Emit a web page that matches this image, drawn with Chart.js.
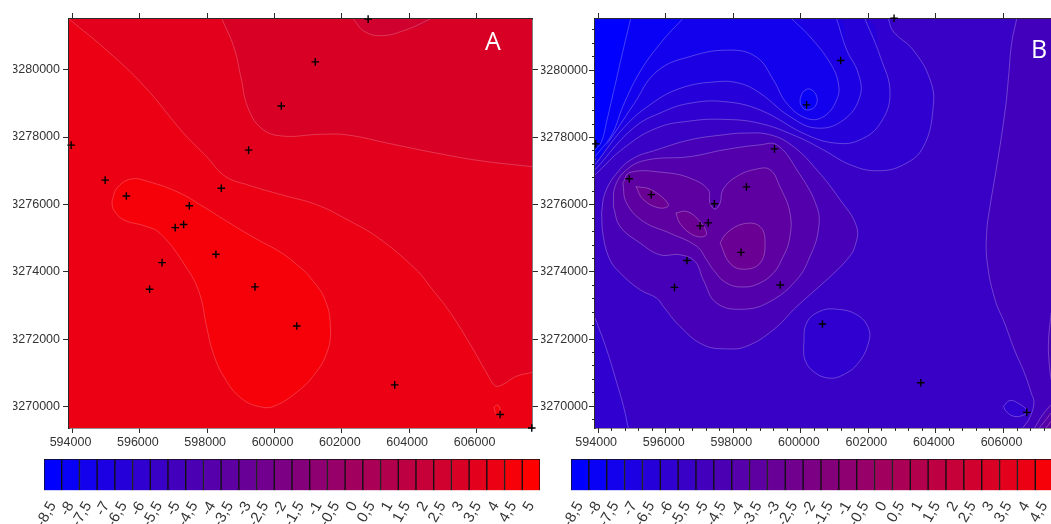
<!DOCTYPE html>
<html lang="en">
<head>
  <meta charset="UTF-8">
  <title>Contour maps A and B</title>
  <script src="https://cdn.jsdelivr.net/npm/chart.js"></script>
  <style>
    html, body { margin: 0; background: #fff; overflow: hidden; width: 1051px; height: 524px; }
    canvas { position: absolute; }
    #mapA { left: 13px; top: 0; }
    #mapB { left: 541px; top: 0; }
    #barA { left: 0; top: 455px; }
    #barB { left: 528px; top: 455px; }
  </style>
</head>
<body>
  <canvas id="mapA" width="527" height="450"></canvas>
  <canvas id="mapB" width="510" height="450"></canvas>
  <canvas id="barA" width="545" height="69"></canvas>
  <canvas id="barB" width="545" height="69"></canvas>

  <script>
    // axis ticks
    const xTicks = [594000,596000,598000,600000,602000,604000,606000];
    const yTicks = [3270000,3272000,3274000,3276000,3278000,3280000];
    const xMinorTicks = [594000,594400,594800,595200,595600,596000,596400,596800,597200,597600,598000,598400,598800,599200,599600,600000,600400,600800,601200,601600,602000,602400,602800,603200,603600,604000,604400,604800,605200,605600,606000,606400,606800,607200];
    const yMinorTicks = [3269600,3270000,3270400,3270800,3271200,3271600,3272000,3272400,3272800,3273200,3273600,3274000,3274400,3274800,3275200,3275600,3276000,3276400,3276800,3277200,3277600,3278000,3278400,3278800,3279200,3279600,3280000,3280400,3280800,3281200];

    // colour scale
    const scaleLabels = ["-8,5","-8","-7,5","-7","-6,5","-6","-5,5","-5","-4,5","-4","-3,5","-3","-2,5","-2","-1,5","-1","-0,5","0","0,5","1","1,5","2","2,5","3","3,5","4","4,5","5"];
    const scaleCells = [1,1,1,1,1,1,1,1,1,1,1,1,1,1,1,1,1,1,1,1,1,1,1,1,1,1,1,1];

    // sample stations (map x, map y)
    const stationsA = [[602780,3281500],[601210,3280230],[600200,3278920],[599230,3277610],[593960,3277760],[594970,3276720],[595600,3276250],[598420,3276480],[597470,3275960],[597300,3275400],[597050,3275310],[598260,3274520],[596660,3274270],[596290,3273480],[599420,3273550],[600660,3272390],[603570,3270640],[606700,3269760],[607640,3269360]];
    const stationsB = [[602760,3281550],[601180,3280290],[600170,3278970],[599220,3277660],[593930,3277810],[594920,3276770],[595570,3276300],[598390,3276530],[597440,3276030],[597260,3275460],[597020,3275370],[598230,3274580],[596630,3274340],[596260,3273540],[599390,3273610],[600640,3272450],[603550,3270700],[606690,3269820]];

    // map A contours
    const a1 = [[593900,3281500],[595010,3280580],[596140,3279500],[597260,3278160],[597980,3277420],[598540,3276830],[599200,3276580],[600220,3276280],[601250,3275990],[602170,3275540],[603090,3275000],[604210,3274060],[604620,3273560],[605230,3272770],[605850,3271780],[606360,3270890],[606560,3270610],[606760,3270640],[607170,3270890],[607650,3271010]];
    const a2 = [[598440,3281500],[598790,3280680],[599000,3279790],[599200,3278900],[599610,3278260],[600220,3278030],[601350,3278080],[602170,3278060],[603390,3277810],[604820,3277520],[606150,3277290],[607650,3277120]];
    const a3 = [[602340,3281500],[602680,3281130],[603190,3281010],[603900,3281180],[604620,3281500]];
    const a4 = [[595170,3276080],[595320,3276480],[595730,3276750],[596240,3276680],[597160,3276350],[597870,3275940],[598590,3275490],[599410,3275000],[600220,3274550],[600840,3274060],[601040,3273860],[601500,3273170],[601660,3272320],[601550,3271580],[601140,3270890],[600630,3270400],[600020,3270020],[599610,3269980],[599000,3270250],[598490,3270890],[598180,3271580],[597980,3272380],[597770,3273360],[597360,3274160],[596600,3275140],[596140,3275360],[595520,3275540],[595220,3275840]];
    const a5 = [[606520,3269980],[606610,3270040],[606680,3269980],[606700,3269800],[606660,3269720],[606560,3269820]];

    // map B contours, open ones
    const b1 = [[594960,3281530],[594750,3280650],[594500,3279560],[594250,3278470],[594100,3277880],[593910,3277630]];
    const b2 = [[596500,3281530],[595880,3280850],[595240,3279960],[594750,3278970],[594400,3278080],[593910,3277430]];
    const b3 = [[593910,3277330],[594450,3278080],[595040,3278970],[595730,3279960],[596720,3280410],[597900,3280600],[598690,3280390],[599190,3279710],[599580,3279020],[600170,3278570],[600670,3278620],[601060,3279120],[601110,3279610],[600870,3280210],[600270,3281000],[599730,3281530]];
    const b4 = [[593910,3277190],[594750,3278280],[595530,3278970],[596420,3279460],[597510,3279660],[598200,3279610],[598790,3279320],[599680,3278620],[600470,3278280],[601260,3278520],[601750,3279220],[601700,3279910],[601360,3280600],[601060,3281530]];
    const b5 = [[593910,3277040],[595040,3278280],[595930,3278770],[596720,3279020],[597710,3279070],[598790,3278820],[600170,3278080],[601060,3277830],[601750,3277930],[602350,3278420],[602640,3279320],[602350,3280410],[601900,3281530]];
    const b6 = [[593910,3276890],[594750,3277680],[595730,3278280],[596720,3278490],[597710,3278540],[598790,3278420],[599880,3278030],[600670,3277630],[601460,3277190],[602250,3277010],[603040,3277190],[603630,3277730],[603920,3278920],[603830,3279710],[603330,3280600],[602740,3281150],[602590,3281530]];
    const bSouthWest = [[593910,3272630],[594250,3271690],[594550,3270700],[594750,3270000],[594890,3269360]];
    const bEast1 = [[606390,3281530],[606240,3280800],[606150,3279810],[606050,3278820],[605800,3277140],[605600,3275950],[605500,3275150],[605520,3274260],[605750,3273170],[606030,3272480],[606320,3271690],[606620,3270990],[606820,3270400],[606900,3270100],[606770,3269650],[606570,3269360]];
    const bEast2 = [[607410,3272780],[607330,3271880],[607360,3271190],[607410,3270790]];
    const bCorner1 = [[606920,3269360],[607160,3269750],[607410,3270050]];
    const bCorner2 = [[607060,3269360],[607410,3269800]];
    const bCorner3 = [[607260,3269360],[607410,3269560]];

    // map B contours, closed ones
    const b7 = [[594100,3275750],[594200,3276340],[594550,3276940],[595040,3277380],[595730,3277630],[596720,3277930],[597710,3278080],[598300,3278130],[599090,3278080],[599780,3277730],[600470,3277040],[601160,3276150],[601650,3275350],[601600,3274760],[601360,3274360],[600770,3273770],[599880,3272970],[599190,3272280],[598400,3271790],[597800,3271710],[597110,3271830],[596420,3272380],[595930,3272970],[595730,3273220],[595240,3273470],[594650,3273970],[594350,3274360],[594150,3275060]];
    const b8 = [[594450,3275950],[594500,3276540],[594840,3277040],[595440,3277330],[596720,3277430],[597710,3277630],[598790,3277780],[599290,3277780],[599880,3277040],[600470,3275950],[600520,3275250],[600270,3274460],[599880,3273770],[599090,3273120],[598300,3272890],[597510,3273070],[597110,3273770],[596870,3274310],[596420,3274510],[595830,3274510],[595240,3274860],[594650,3275350]];
    const b9 = [[594730,3276640],[594940,3276960],[595930,3276960],[596720,3276790],[597260,3276440],[597310,3276050],[597460,3275870],[597610,3276050],[597690,3276440],[598100,3276840],[598690,3277060],[599090,3277040],[599380,3276540],[599680,3275750],[599660,3274960],[599430,3274360],[599190,3273970],[598790,3273670],[598300,3273550],[597800,3273670],[597410,3274060],[597210,3274360],[596920,3274760],[596130,3275150],[595340,3275500],[594840,3276050]];
    const b10a = [[595120,3276540],[595580,3276440],[596080,3276000],[595830,3275900],[595340,3276150]];
    const b10b = [[596300,3275750],[596620,3275800],[596970,3275550],[597210,3275150],[597060,3275040],[596720,3275150],[596420,3275450]];
    const b10c = [[597610,3274860],[597800,3275150],[598300,3275430],[598790,3275350],[598940,3274860],[598790,3274260],[598300,3274080],[597900,3274260]];
    const bLowNorth = [[599980,3279170],[600080,3279370],[600270,3279440],[600470,3279220],[600420,3278920],[600170,3278820],[600000,3278970]];
    const bLowMid = [[600080,3271790],[600170,3272480],[600570,3272830],[601060,3272890],[601650,3272730],[602000,3272330],[602000,3271880],[601700,3271290],[601260,3270940],[600820,3270840],[600370,3271040],[600120,3271390]];
    const bLowSouth = [[606000,3270000],[606180,3270170],[606420,3270100],[606720,3269850],[606620,3269750],[606320,3269700],[606080,3269850]];

    const axisColor = "#2b2b2b";
    const textColor = "#333";
    const tickFont = { family: "'Liberation Sans', Arial, sans-serif", size: 12.5 };

    // off-map points that close the open contours
    const farNW = [[592500,3283000]];
    const farNE = [[609000,3283000]];
    const farSE = [[609000,3268000]];
    const farSW = [[592500,3268000]];

    // same ramp as the colour scale cells
    function bandColor(k) {
      const r = Math.round(k * 255 / 27);
      return `rgb(${r},0,${255 - r})`;
    }

    function band(points, k, closure, lineColor) {
      // fill first, contour line separately so the closing edge is not stroked
      const closed = !closure;
      const linePoints = closed ? [...points, points[0]] : points;
      return [
        { data: closed ? linePoints : [...points, ...closure], showLine: true, pointRadius: 0, borderWidth: 0,
          tension: 0.42, backgroundColor: bandColor(k), fill: "shape" },
        { data: linePoints, showLine: true, pointRadius: 0, borderWidth: 0.8, borderColor: lineColor,
          tension: 0.42, fill: false },
      ];
    }

    function stationSet(points) {
      return { data: points, pointStyle: "cross", pointRadius: 3.8, pointBorderWidth: 1.4,
        pointBorderColor: "#000", showLine: false, clip: false };
    }

    function fixedAxis(position, min, max, size, values, opts = {}) {
      const horizontal = position === "top" || position === "bottom";
      return {
        type: "linear", position, min, max, offset: false,
        weight: opts.weight || 1,
        afterBuildTicks(s) { s.ticks = values.map((value) => ({ value })); },
        afterFit(s) {
          if (horizontal) s.height = size; else s.width = size;
          s.paddingLeft = s.paddingRight = s.paddingTop = s.paddingBottom = 0;
        },
        border: { display: !opts.noLine, color: axisColor, width: 1.6 },
        grid: { drawOnChartArea: false, drawTicks: true, tickLength: opts.tick || 6, tickColor: axisColor, tickWidth: 1 },
        ticks: {
          autoSkip: false, maxRotation: 0,
          display: !!opts.labels, color: textColor, font: tickFont, padding: opts.pad === undefined ? 3 : opts.pad,
          labelOffset: horizontal ? -2 : 0,
          callback: (v) => String(v),
        },
      };
    }

    const plotBackground = {
      id: "plotBackground",
      beforeDatasetsDraw(chart, args, o) {
        const { left, top, width, height } = chart.chartArea;
        chart.ctx.fillStyle = o.color;
        chart.ctx.fillRect(left, top, width, height);
      },
    };

    const panelLetter = {
      id: "panelLetter",
      afterDraw(chart, args, o) {
        const c = chart.ctx;
        c.save();
        c.fillStyle = "#fff";
        c.font = "25px 'Open Sans', sans-serif";
        c.textAlign = "center";
        c.textBaseline = "middle";
        c.fillText(o.text, chart.chartArea.right - o.right, chart.chartArea.top + o.down);
        c.restore();
      },
    };

    function mapChart(id, datasets, scales, base, letter) {
      return new Chart(document.getElementById(id), {
        type: "scatter",
        data: { datasets },
        plugins: [plotBackground, panelLetter],
        options: {
          responsive: false, animation: false, devicePixelRatio: 1, events: [],
          layout: { padding: 0, autoPadding: false },
          plugins: { legend: { display: false }, tooltip: { enabled: false },
            plotBackground: { color: bandColor(base) }, panelLetter: letter },
          scales,
        },
      });
    }

    function colorBar(id, left, right) {
      return new Chart(document.getElementById(id), {
        type: "bar",
        data: {
          labels: scaleLabels,
          datasets: [{ data: scaleCells, backgroundColor: scaleCells.map((c, i) => bandColor(i)),
            borderColor: "#111", borderWidth: 1, barPercentage: 1, categoryPercentage: 1 }],
        },
        options: {
          responsive: false, animation: false, devicePixelRatio: 1, events: [],
          layout: { padding: { left, right, top: 4 }, autoPadding: false },
          plugins: { legend: { display: false }, tooltip: { enabled: false } },
          scales: {
            y: { display: false, min: 0, max: 1 },
            x: {
              afterFit(s) { s.height = 33.5; s.paddingLeft = s.paddingRight = 0; },
              border: { display: false },
              grid: { display: false },
              ticks: { autoSkip: false, minRotation: 60, maxRotation: 60, padding: 0, color: textColor,
                font: { family: "'Liberation Sans', Arial, sans-serif", size: 15 } },
            },
          },
        },
      });
    }

    const lineA = "rgba(255,255,255,0.27)";
    const lineB = "rgba(255,255,255,0.32)";

    // paint order bottom to top, chart.js draws the first dataset last so reverse it
    const layersA = [
      ...band(a1, 24, [[608500,3271010], ...farNE, ...farNW], lineA),
      ...band(a2, 23, [[608500,3277120], ...farNE, [598440,3283000]], lineA),
      ...band(a3, 22, [[604620,3283000],[602340,3283000]], lineA),
      ...band(a4, 26, null, lineA),
      ...band(a5, 26, null, lineA),
      stationSet(stationsA),
    ].reverse();

    const layersB = [
      ...band(b6, 5, farNW, lineB),
      ...band(b5, 4, farNW, lineB),
      ...band(b4, 3, farNW, lineB),
      ...band(b3, 2, farNW, lineB),
      ...band(b2, 1, farNW, lineB),
      ...band(b1, 0, farNW, lineB),
      ...band(bLowNorth, 1, null, lineB),
      ...band(bSouthWest, 5, farSW, lineB),
      ...band(bLowMid, 5, null, lineB),
      ...band(bLowSouth, 5, null, lineB),
      ...band(b7, 7.5, null, lineB),
      ...band(b8, 8.8, null, lineB),
      ...band(b9, 10, null, lineB),
      ...band(b10a, 11.3, null, lineB),
      ...band(b10b, 11.3, null, lineB),
      ...band(b10c, 11.3, null, lineB),
      ...band(bEast1, 7, [[606570,3268000], ...farSE, ...farNE, [606390,3283000]], lineB),
      ...band(bEast2, 8, [...farSE, ...farNE], lineB),
      ...band(bCorner1, 8, [[609000,3270050], ...farSE], lineB),
      ...band(bCorner2, 9, [[609000,3269800], ...farSE], lineB),
      ...band(bCorner3, 10, [[609000,3269560], ...farSE], lineB),
      stationSet(stationsB),
    ].reverse();

    const xA = [593896, 607647], yA = [3269359, 3281504];
    const xB = [593906, 607406], yB = [3269355, 3281526];

    mapChart("mapA", layersA, {
      x: fixedAxis("bottom", xA[0], xA[1], 22, xTicks, { labels: true, tick: 5, pad: 2 }),
      y: fixedAxis("left", yA[0], yA[1], 56, yTicks, { labels: true }),
      xTop: fixedAxis("top", xA[0], xA[1], 19, xTicks),
      yRight: fixedAxis("right", yA[0], yA[1], 8, yTicks),
    }, 25, { text: "A", right: 39, down: 24 });

    mapChart("mapB", layersB, {
      x: fixedAxis("bottom", xB[0], xB[1], 22, xTicks, { labels: true, tick: 5, pad: 2 }),
      xMinor: fixedAxis("bottom", xB[0], xB[1], 0, xMinorTicks, { tick: 3, noLine: true, weight: 0.5 }),
      y: fixedAxis("left", yB[0], yB[1], 54, yTicks, { labels: true, pad: 1 }),
      yMinor: fixedAxis("left", yB[0], yB[1], 0, yMinorTicks, { tick: 3, noLine: true, weight: 0.5 }),
      xTop: fixedAxis("top", xB[0], xB[1], 19, xTicks),
    }, 6, { text: "B", right: 12, down: 32 });

    colorBar("barA", 44, 5);
    colorBar("barB", 43, 2);
  </script>
</body>
</html>
